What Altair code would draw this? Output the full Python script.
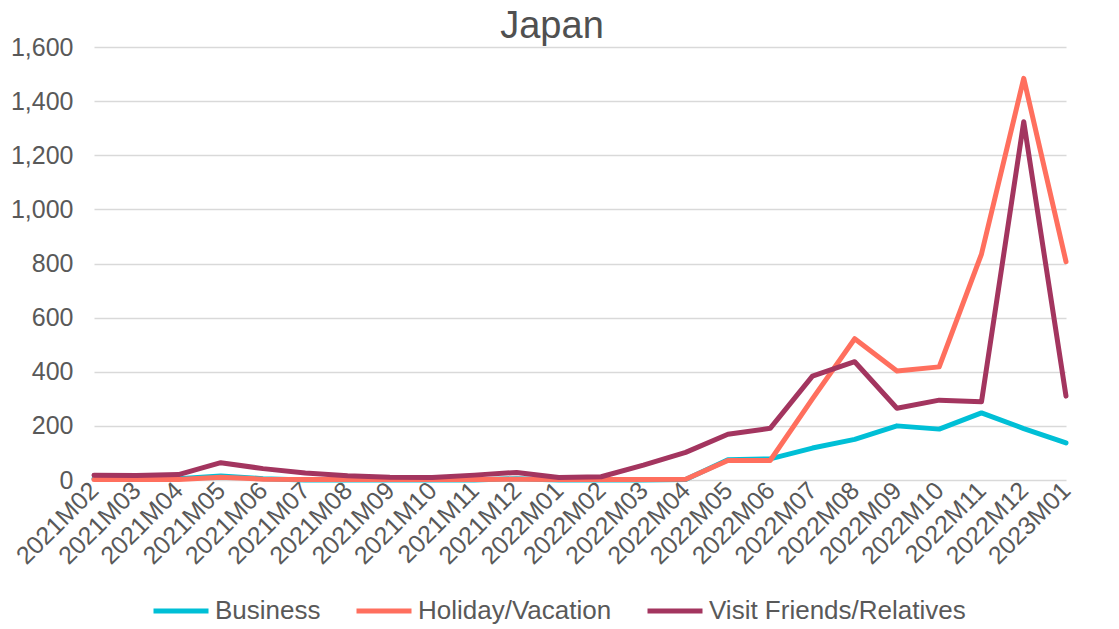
import altair as alt
import pandas as pd

months = ["2021M02", "2021M03", "2021M04", "2021M05", "2021M06", "2021M07", "2021M08",
          "2021M09", "2021M10", "2021M11", "2021M12", "2022M01", "2022M02", "2022M03",
          "2022M04", "2022M05", "2022M06", "2022M07", "2022M08", "2022M09", "2022M10",
          "2022M11", "2022M12", "2023M01"]
business = [5, 5, 5, 15, 5, 0, 0, 0, 0, 0, 5, 0, 0, 0, 2, 75, 78, 118, 150, 200, 188, 248, 190, 137]
holiday = [2, 2, 2, 10, 3, 2, 2, 2, 2, 2, 3, 2, 2, 2, 3, 72, 72, 300, 522, 403, 418, 835, 1484, 807]
visit = [18, 17, 20, 64, 42, 26, 16, 10, 9, 18, 28, 9, 12, 55, 102, 169, 191, 384, 437, 265, 295, 289, 1324, 310]

series = ["Business", "Holiday/Vacation", "Visit Friends/Relatives"]
colors = ["#00BFD6", "#FF6F5E", "#A3355F"]

rows = []
for name, vals in zip(series, [business, holiday, visit]):
    for m, v in zip(months, vals):
        rows.append({"Month": m, "Value": v, "Series": name})
df = pd.DataFrame(rows)

FONT = "Liberation Sans"

chart = alt.Chart(df).mark_line(strokeWidth=5, strokeJoin="round", strokeCap="round").encode(
    x=alt.X("Month:N", sort=months, title=None,
            scale=alt.Scale(type="point", padding=0),
            axis=alt.Axis(labelAngle=-45, labelAlign="right", labelBaseline="middle",
                          labelFontSize=25, labelColor="#595959", labelFont=FONT,
                          ticks=False, domain=False, grid=False, labelPadding=6)),
    y=alt.Y("Value:Q", title=None,
            scale=alt.Scale(domain=[0, 1600], nice=False),
            axis=alt.Axis(values=[0, 200, 400, 600, 800, 1000, 1200, 1400, 1600], format=",d",
                          labelFontSize=25, labelColor="#595959", labelFont=FONT,
                          ticks=False, domain=False, gridColor="#D9D9D9", gridWidth=1.5,
                          labelPadding=21)),
    color=alt.Color("Series:N", sort=series,
                    scale=alt.Scale(domain=series, range=colors),
                    legend=alt.Legend(title=None, orient="none", direction="horizontal",
                                      legendX=57, legendY=534,
                                      symbolType="stroke", symbolSize=3025, symbolStrokeWidth=5,
                                      labelFontSize=26, labelColor="#595959", labelFont=FONT,
                                      labelLimit=0, columnPadding=25, labelOffset=4)),
    order=alt.Order("Series:N"),
).properties(
    width=972, height=433,
    autosize=alt.AutoSizeParams(type="none"),
    padding={"left": 86, "top": 39, "right": 45, "bottom": 148},
    title=alt.TitleParams("Japan", fontSize=38, font=FONT, fontWeight="normal",
                          color="#505050", anchor="middle", dx=-28, offset=-11),
).configure_view(stroke=None)

chart.save("out.html", embed_options={"renderer": "svg", "actions": False})
